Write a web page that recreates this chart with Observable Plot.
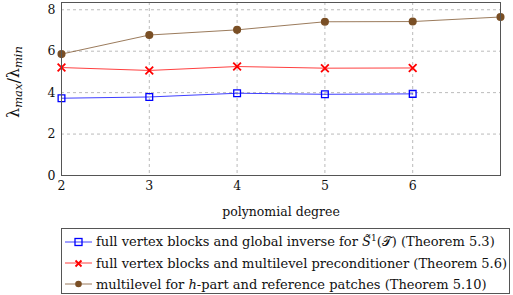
<!DOCTYPE html>
<html><head><meta charset="utf-8">
<script src="https://cdn.jsdelivr.net/npm/d3@7"></script>
<script src="https://cdn.jsdelivr.net/npm/@observablehq/plot@0.6"></script>
<style>
body{margin:0;background:#fff;font-family:"DejaVu Serif","Liberation Serif",serif;}
#wrap{position:relative;width:513px;height:295px;}
#legend{position:absolute;left:61px;top:228px;width:449px;height:66px;border:1px solid #555;box-sizing:border-box;font-size:13px;color:#111;font-family:"DejaVu Serif","Liberation Serif",serif;}
.row{position:absolute;left:3px;height:20px;display:flex;align-items:center;white-space:nowrap;}
.row svg{margin-right:3px;}
</style>
</head><body><div id="wrap"><div id="chart"></div><div id="legend"></div></div>
<script>
const degrees = [2, 3, 4, 5, 6, 7];
const blueVals = [3.73, 3.79, 3.97, 3.92, 3.94];
const redVals = [5.21, 5.07, 5.26, 5.18, 5.19];
const brownVals = [5.86, 6.78, 7.03, 7.42, 7.43, 7.65];
const xTicks = [2, 3, 4, 5, 6];
const yTicks = [0, 2, 4, 6, 8];
const seriesLabels = [
  'full vertex blocks and global inverse for <i>S\u0303</i><sup style="font-size:9px">1</sup>(𝒯) (Theorem 5.3)',
  'full vertex blocks and multilevel preconditioner (Theorem 5.6)',
  'multilevel for <i>h</i>-part and reference patches (Theorem 5.10)'
];
const colors = ["#0000ff", "#ff0000", "#7a4f25"];

const blue = blueVals.map((v, i) => ({x: degrees[i], y: v}));
const red = redVals.map((v, i) => ({x: degrees[i], y: v}));
const brown = brownVals.map((v, i) => ({x: degrees[i], y: v}));

const chart = Plot.plot({
  width: 513, height: 222,
  marginLeft: 61, marginRight: 13, marginTop: 2, marginBottom: 47,
  style: {fontFamily: "'DejaVu Serif', 'Liberation Serif', serif", fontSize: "12.5px", color: "#111", background: "#fff"},
  x: {domain: [2, 7], ticks: xTicks, tickSize: 0, tickPadding: 6, label: "polynomial degree", labelAnchor: "center", labelArrow: "none", labelOffset: 40, tickFormat: d => d},
  y: {domain: [0, 8.35], ticks: yTicks, tickSize: 0, tickPadding: 6, label: null},
  marks: [
    Plot.gridX(xTicks, {stroke: "#bbb", strokeOpacity: 1, strokeDasharray: "3,3"}),
    Plot.gridY(yTicks, {stroke: "#bbb", strokeOpacity: 1, strokeDasharray: "3,3"}),
    Plot.line(blue, {x: "x", y: "y", stroke: colors[0], strokeWidth: 1, strokeOpacity: 0.75}),
    Plot.line(red, {x: "x", y: "y", stroke: colors[1], strokeWidth: 1, strokeOpacity: 0.75}),
    Plot.line(brown, {x: "x", y: "y", stroke: colors[2], strokeWidth: 1, strokeOpacity: 0.75}),
    Plot.dot(blue, {x: "x", y: "y", symbol: "square", r: 3.8, stroke: colors[0], strokeWidth: 1.3, fill: "none"}),
    Plot.dot(red, {x: "x", y: "y", symbol: "times", r: 3.6, stroke: colors[1], strokeWidth: 1.8}),
    Plot.dot(brown, {x: "x", y: "y", symbol: "circle", r: 3.3, fill: colors[2], stroke: colors[2]}),
    Plot.frame({stroke: "#555", strokeWidth: 1})
  ]
});
document.getElementById("chart").appendChild(chart);

// y-axis label with subscripts
const svg = d3.select(chart);
const yl = svg.append("text")
  .attr("transform", "translate(19,82) rotate(-90)")
  .attr("text-anchor", "middle")
  .attr("font-size", 16)
  .attr("font-family", "'DejaVu Serif', serif")
  .attr("fill", "#111");
yl.append("tspan").text("λ");
yl.append("tspan").attr("font-style", "italic").attr("font-size", 11.5).attr("dy", 3).text("max");
yl.append("tspan").attr("dy", -3).text("/λ");
yl.append("tspan").attr("font-style", "italic").attr("font-size", 11.5).attr("dy", 3).text("min");

// legend
const legend = document.getElementById("legend");
const symbols = ["square", "times", "circle"];
const rowsY = [3, 24, 45];
seriesLabels.forEach((lab, i) => {
  const row = document.createElement("div");
  row.className = "row";
  row.style.top = rowsY[i] + "px";
  const c = colors[i];
  let mk = "";
  if (symbols[i] === "square") mk = `<rect x="10" y="6.5" width="7" height="7" fill="none" stroke="${c}" stroke-width="1.3"/>`;
  else if (symbols[i] === "times") mk = `<path d="M10.5,7.5L16.5,13.5M16.5,7.5L10.5,13.5" stroke="${c}" stroke-width="1.8"/>`;
  else mk = `<circle cx="13.5" cy="10" r="3.3" fill="${c}"/>`;
  row.innerHTML = `<svg width="28" height="20"><line x1="0" y1="10" x2="27" y2="10" stroke="${c}" stroke-opacity="0.75" stroke-width="1"/>${mk}</svg><span>${lab}</span>`;
  legend.appendChild(row);
});
</script></body></html>
